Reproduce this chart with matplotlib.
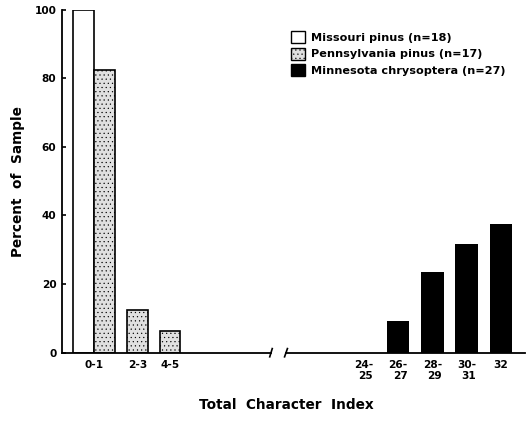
import matplotlib
matplotlib.use("Agg")
import matplotlib.pyplot as plt
import matplotlib.patches as mpatches

plt.rcParams["font.family"] = ["DejaVu Sans"]
plt.rcParams["font.weight"] = "bold"
plt.rcParams["hatch.linewidth"] = 0.35

# character index classes, split by the axis break
left_labels = ["0-1", "2-3", "4-5"]
right_labels = ["24-\n25", "26-\n27", "28-\n29", "30-\n31", "32"]

# percent of sample per class
missouri = [100.0, 0.0, 0.0]
pennsylvania = [82.5, 12.3, 6.2]
minnesota = [0.0, 9.3, 23.4, 31.7, 37.5]

series_names = ["Missouri pinus (n=18)",
                "Pennsylvania pinus (n=17)",
                "Minnesota chrysoptera (n=27)"]

W, H = 529, 425
fig = plt.figure(figsize=(W / 100, H / 100), dpi=100)

y0, y1 = 352.7, 9.5
axl = fig.add_axes([62 / W, 1 - y0 / H, (271 - 62) / W, (y0 - y1) / H])
axr = fig.add_axes([286 / W, 1 - y0 / H, (525 - 286) / W, (y0 - y1) / H])

stipple = dict(facecolor="#e0e0e0", edgecolor="black", hatch="....", linewidth=1.2)

# left part: 0-1 has a white and a stippled bar side by side
lpos = [0.0, 2.12, 3.7]
axl.bar(lpos[0] - 0.5, missouri[0], width=1.0, facecolor="white",
        edgecolor="black", linewidth=1.2)
axl.bar(lpos[0] + 0.5, pennsylvania[0], width=1.0, **stipple)
axl.bar(lpos[1:], pennsylvania[1:], width=1.0, **stipple)
axl.set_xlim(-1.56, 8.63)
axl.set_ylim(0, 100)
axl.set_xticks(lpos)
axl.set_xticklabels(left_labels)
axl.set_yticks([0, 20, 40, 60, 80, 100])

rpos = list(range(len(right_labels)))
axr.bar(rpos, minnesota, width=0.66, color="black")
axr.set_xlim(-2.26, 4.70)
axr.set_ylim(0, 100)
axr.set_xticks(rpos)
axr.set_xticklabels(right_labels, multialignment="right", linespacing=1.05)
axr.set_yticks([])

for ax in (axl, axr):
    ax.spines["top"].set_visible(False)
    ax.spines["right"].set_visible(False)
    ax.spines["bottom"].set_linewidth(1.3)
    ax.spines["left"].set_linewidth(1.3)
    ax.tick_params(axis="x", length=0, pad=5.5, labelsize=7.6)
    ax.tick_params(axis="y", direction="in", length=3, width=1.2, pad=4, labelsize=7.6)
axr.spines["left"].set_visible(False)

# break marks
for ax, xa in ((axl, 1.0), (axr, 0.0)):
    ax.plot([xa - 0.006, xa + 0.006], [-0.012, 0.012], transform=ax.transAxes,
            color="black", lw=1.2, clip_on=False)

handles = [mpatches.Patch(facecolor="white", edgecolor="black", linewidth=1.0),
           mpatches.Patch(facecolor="#e0e0e0", edgecolor="black", hatch="....", linewidth=1.0),
           mpatches.Patch(facecolor="black", edgecolor="black", linewidth=1.0)]
fig.legend(handles, series_names, loc="upper left",
           bbox_to_anchor=(291 / W, 1 - 31 / H), frameon=False,
           fontsize=8.1, handlelength=1.2, handleheight=1.25, handletextpad=0.55,
           labelspacing=0.42, borderaxespad=0, borderpad=0)

fig.text(286 / W, 1 - 405 / H, "Total  Character  Index", ha="center", va="center",
         fontsize=9.8, fontweight="bold")
fig.text(18 / W, 1 - 182 / H, "Percent  of  Sample", ha="center", va="center",
         rotation=90, fontsize=9.8, fontweight="bold")

fig.savefig("out.png", dpi=100)
